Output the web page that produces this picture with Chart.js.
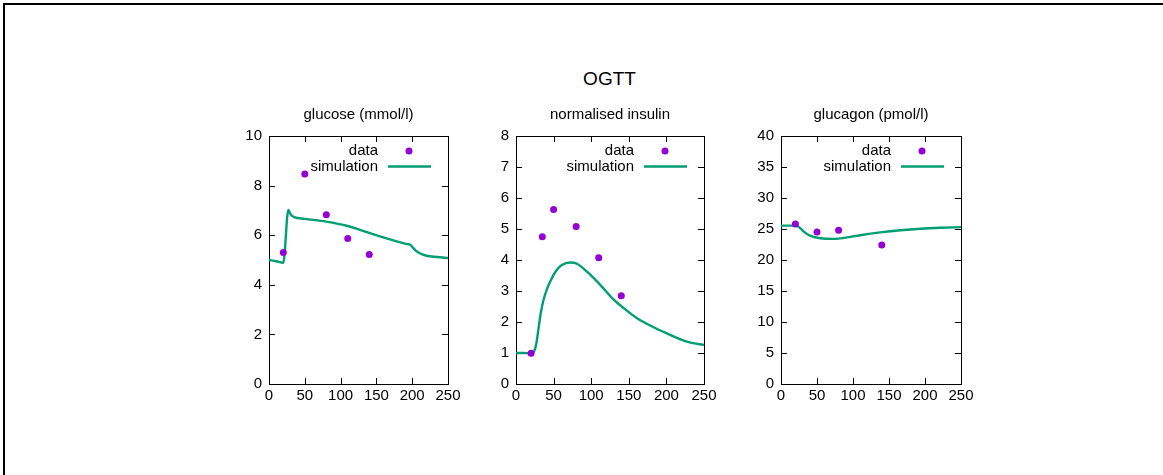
<!DOCTYPE html>
<html>
<head>
<meta charset="utf-8">
<title>OGTT</title>
<script src="https://cdn.jsdelivr.net/npm/chart.js@4.4.1/dist/chart.umd.min.js"></script>
<style>
    body { margin: 0; background: #fff; font-family: "Liberation Sans", Arial, sans-serif; }
    #page { position: relative; width: 1163px; height: 475px; overflow: hidden; }
    #frame { position: absolute; left: 3px; top: 3px; width: 1200px; height: 500px; border-top: 2px solid #000; border-left: 2px solid #000; }
    #main-title { position: absolute; left: 0; width: 1219px; top: 69px; line-height: 20px; text-align: center; font-size: 19px; color: #000; }
    canvas { position: absolute; }
</style>
</head>
<body>
<div id="page">
    <div id="frame"></div>
    <div id="main-title">OGTT</div>
    <canvas id="glucose-chart"></canvas>
    <canvas id="insulin-chart"></canvas>
    <canvas id="glucagon-chart"></canvas>
</div>
<script>
// measured samples (minutes after the glucose drink)
const glucoseTimes = [20, 50, 80, 110, 140];
const glucoseData = [5.3, 8.47, 6.82, 5.87, 5.22];
const insulinTimes = [20, 35, 50, 80, 110, 140];
const insulinData = [0.99, 4.75, 5.63, 5.08, 4.07, 2.85];
const glucagonTimes = [20, 50, 80, 140];
const glucagonData = [25.8, 24.5, 24.8, 22.4];

// model output
const glucoseSimTimes = [0, 10, 20, 27, 30, 35, 50, 80, 110, 140, 170, 190, 198, 201, 205, 210, 220, 235, 250];
const glucoseSim = [5.0, 4.95, 4.89, 7.02, 6.85, 6.73, 6.66, 6.55, 6.37, 6.09, 5.82, 5.66, 5.6, 5.5, 5.38, 5.28, 5.17, 5.12, 5.08];
const insulinSimTimes = [0, 10, 20, 24, 27, 30, 33, 37, 41, 45, 50, 55, 61, 72, 81, 94, 112, 130, 143, 161, 183, 200, 227, 250];
const insulinSim = [1.0, 1.0, 0.99, 1.05, 1.3, 1.8, 2.3, 2.75, 3.05, 3.28, 3.52, 3.7, 3.84, 3.92, 3.88, 3.63, 3.2, 2.72, 2.45, 2.12, 1.83, 1.64, 1.37, 1.26];
const glucagonSimTimes = [0, 15, 22, 27, 33, 41, 55, 73, 92, 110, 138, 166, 194, 221, 250];
const glucagonSim = [25.55, 25.55, 25.5, 25.1, 24.45, 23.9, 23.5, 23.4, 23.65, 24.0, 24.45, 24.8, 25.05, 25.2, 25.3];

const xTicks = [0, 50, 100, 150, 200, 250];

const dataColor = '#9400d3';
const simColor = '#009e73';
const fontFamily = '"Liberation Sans", Arial, sans-serif';

const panels = [
    {
        id: 'glucose-chart', title: 'glucose (mmol/l)', left: 269, right: 448, yMax: 10, yStep: 2,
        times: glucoseTimes, values: glucoseData, simTimes: glucoseSimTimes, sim: glucoseSim
    },
    {
        id: 'insulin-chart', title: 'normalised insulin', left: 516, right: 704, yMax: 8, yStep: 1,
        times: insulinTimes, values: insulinData, simTimes: insulinSimTimes, sim: insulinSim
    },
    {
        id: 'glucagon-chart', title: 'glucagon (pmol/l)', left: 781, right: 961, yMax: 40, yStep: 5,
        times: glucagonTimes, values: glucagonData, simTimes: glucagonSimTimes, sim: glucagonSim
    }
];

function toPoints(xs, ys) {
    return xs.map((x, i) => ({x: x, y: ys[i]}));
}

// box around the plot with inward ticks on every side, plus the panel title
const framePlugin = {
    id: 'frame',
    beforeDatasetsDraw(chart, args, opts) {
        const ctx = chart.ctx;
        const a = chart.chartArea;
        const tick = 6;
        ctx.save();
        ctx.strokeStyle = '#000';
        ctx.lineWidth = 1;
        ctx.beginPath();
        chart.scales.x.ticks.forEach(t => {
            const px = Math.round(chart.scales.x.getPixelForValue(t.value)) + 0.5;
            ctx.moveTo(px, a.bottom);
            ctx.lineTo(px, a.bottom - tick);
            ctx.moveTo(px, a.top);
            ctx.lineTo(px, a.top + tick);
        });
        chart.scales.y.ticks.forEach(t => {
            const py = Math.round(chart.scales.y.getPixelForValue(t.value)) + 0.5;
            ctx.moveTo(a.left, py);
            ctx.lineTo(a.left + tick, py);
            ctx.moveTo(a.right, py);
            ctx.lineTo(a.right - tick, py);
        });
        ctx.stroke();
        ctx.strokeRect(Math.round(a.left) + 0.5, Math.round(a.top) + 0.5,
            Math.round(a.right - a.left), Math.round(a.bottom - a.top));

        ctx.fillStyle = '#000';
        ctx.font = '15px ' + fontFamily;
        ctx.textAlign = 'center';
        ctx.textBaseline = 'middle';
        ctx.fillText(opts.title, (a.left + a.right) / 2, a.top - 21);
        ctx.restore();
    }
};

// key in the top right corner: label text, then the sample
const keyPlugin = {
    id: 'key',
    afterDatasetsDraw(chart) {
        const ctx = chart.ctx;
        const a = chart.chartArea;
        ctx.save();
        ctx.font = '15px ' + fontFamily;
        ctx.textAlign = 'right';
        ctx.textBaseline = 'middle';
        chart.data.datasets.forEach((ds, i) => {
            const y = a.top + 15 + i * 15.5;
            ctx.fillStyle = '#000';
            ctx.fillText(ds.label, a.right - 70, y);
            if (ds.showLine === false) {
                ctx.fillStyle = ds.backgroundColor;
                ctx.beginPath();
                ctx.arc(a.right - 39, y, ds.pointRadius, 0, Math.PI * 2);
                ctx.fill();
            } else {
                ctx.strokeStyle = ds.borderColor;
                ctx.lineWidth = ds.borderWidth;
                ctx.beginPath();
                ctx.moveTo(a.right - 60, y);
                ctx.lineTo(a.right - 17, y);
                ctx.stroke();
            }
        });
        ctx.restore();
    }
};

function makePanel(p) {
    const canvas = document.getElementById(p.id);
    canvas.width = p.right - p.left + 70;
    canvas.height = 310;
    canvas.style.left = (p.left - 50) + 'px';
    canvas.style.top = '100px';

    const font = {family: fontFamily, size: 15};

    new Chart(canvas.getContext('2d'), {
        type: 'line',
        data: {
            datasets: [
                {
                    label: 'data',
                    data: toPoints(p.times, p.values),
                    showLine: false,
                    pointRadius: 3.5,
                    pointBorderWidth: 0,
                    backgroundColor: dataColor,
                    borderColor: dataColor
                },
                {
                    label: 'simulation',
                    data: toPoints(p.simTimes, p.sim),
                    borderColor: simColor,
                    borderWidth: 2.4,
                    pointRadius: 0,
                    fill: false,
                    cubicInterpolationMode: 'monotone'
                }
            ]
        },
        options: {
            responsive: false,
            animation: false,
            devicePixelRatio: 1,
            layout: {padding: {top: 36, right: 20, bottom: 0, left: 0}, autoPadding: false},
            plugins: {
                legend: {display: false},
                tooltip: {enabled: false},
                title: {display: false},
                frame: {title: p.title}
            },
            scales: {
                x: {
                    type: 'linear',
                    min: 0,
                    max: 250,
                    afterBuildTicks: s => { s.ticks = xTicks.map(v => ({value: v})); },
                    ticks: {color: '#000', font: font, padding: 3, maxRotation: 0},
                    grid: {display: false, drawTicks: false, tickLength: 0},
                    border: {display: false},
                    afterFit: s => { s.height = 26; }
                },
                y: {
                    min: 0,
                    max: p.yMax,
                    ticks: {stepSize: p.yStep, color: '#000', font: font, padding: 7},
                    grid: {display: false, drawTicks: false, tickLength: 0},
                    border: {display: false},
                    afterFit: s => { s.width = 50; }
                }
            }
        },
        plugins: [framePlugin, keyPlugin]
    });
}

panels.forEach(makePanel);
</script>
</body>
</html>
